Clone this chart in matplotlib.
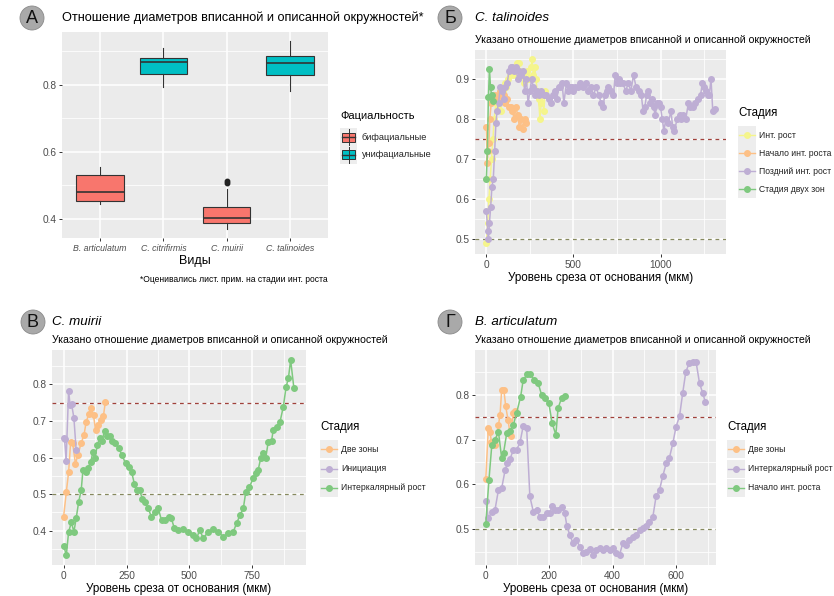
import matplotlib
matplotlib.use("Agg")
import matplotlib.pyplot as plt
from matplotlib.patches import Rectangle, Ellipse
from matplotlib.lines import Line2D

plt.rcParams['font.family'] = ['Liberation Sans', 'DejaVu Sans']

W, H = 834, 596

# ---- panel A: boxplot stats
species = ["B. articulatum", "C. citrifirmis", "C. muirii", "C. talinoides"]
facial = ["bi", "uni", "bi", "uni"]
whis_lo = [0.443, 0.794, 0.370, 0.781]
q1 = [0.454, 0.832, 0.388, 0.829]
med = [0.481, 0.868, 0.403, 0.864]
q3 = [0.529, 0.880, 0.434, 0.887]
whis_hi = [0.553, 0.910, 0.488, 0.931]
outliers = [[], [], [0.505, 0.513], []]

# ---- panel Б: C. talinoides
tal_int_x = [0,8,15,22,30,38,45,55,65,75,85,95,105,115,125,135,145,155,165,175,
             185,195,205,215,225,235,245,255,262,270,278,285,292,300,308,315,322,330,338]
tal_int_y = [0.49,0.54,0.60,0.65,0.70,0.75,0.80,0.84,0.83,0.85,0.82,0.87,0.89,0.88,0.90,0.91,0.92,0.91,0.93,0.94,
             0.94,0.92,0.91,0.89,0.90,0.92,0.90,0.93,0.95,0.91,0.93,0.90,0.87,0.85,0.80,0.84,0.86,0.82,0.87]
tal_start_x = [0,5,10,15,20,28,38,50,60,70,80,90,100,110,120,130,140,150,160,170,180,190,200,210,220,230]
tal_start_y = [0.78,0.69,0.72,0.74,0.80,0.84,0.85,0.86,0.85,0.86,0.87,0.85,0.86,0.84,0.85,0.83,0.83,0.82,0.80,0.83,
               0.81,0.78,0.80,0.775,0.80,0.79]
tal_late_x = [0,8,12,18,25,32,40,48,55,62, 70,80,90,100,110,120,130,140,150,160,
              170,180,190,200,210,220,230,240,250,260, 270,280,290,300,315,330,345,360,370,385,
              395,405,415,425,435,445,460,470,480,490, 500,510,525,540,555,570,585,600,615,630,
              645,660,670,680,690,700,715,730,740,750, 760,770,785,800,815,830,845,860,875,890,
              900,910,920,930,940,950,960,970,980,990, 1000,1010,1020,1030,1045,1060,1070,1080,1095,1110,
              1120,1130,1145,1160,1170,1185,1200,1215,1230,1240, 1250,1260,1270,1280,1290,1300,1310]
tal_late_y = [0.57,0.52,0.50,0.54,0.58,0.63,0.65,0.72,0.79,0.82, 0.84,0.88,0.87,0.85,0.88,0.89,0.92,0.93,0.93,0.92,
              0.93,0.90,0.92,0.91,0.92,0.87,0.90,0.84,0.87,0.90, 0.88,0.86,0.87,0.86,0.87,0.86,0.86,0.85,0.84,0.86,
              0.87,0.85,0.88,0.88,0.89,0.84,0.89,0.87,0.88,0.88, 0.87,0.88,0.88,0.89,0.88,0.89,0.87,0.88,0.86,0.88,
              0.86,0.84,0.83,0.86,0.87,0.88,0.87,0.86,0.91,0.89, 0.90,0.89,0.89,0.87,0.89,0.87,0.91,0.88,0.87,0.86,
              0.82,0.83,0.86,0.87,0.84,0.85,0.83,0.81,0.84,0.84, 0.83,0.80,0.77,0.80,0.79,0.82,0.78,0.77,0.80,0.81,
              0.80,0.81,0.80,0.84,0.83,0.83,0.84,0.85,0.86,0.89, 0.88,0.87,0.86,0.86,0.90,0.82,0.825]
tal_two_x = [0,6,12,18,24,30,38]
tal_two_y = [0.65,0.72,0.855,0.925,0.88,0.86,0.845]

# ---- panel В: C. muirii
mui_two_x = [0,11,20,28,36,47,57,70,81,90,100,110,119,127,136,147,158,166]
mui_two_y = [0.438,0.507,0.56,0.642,0.64,0.583,0.607,0.64,0.661,0.698,0.718,0.734,0.715,0.675,0.69,0.703,0.712,0.752]
mui_init_x = [0,4,10,20,26,32,41,50]
mui_init_y = [0.652,0.65,0.59,0.782,0.742,0.745,0.708,0.62]
mui_int_x = [0,11,20,31,41,50,60,70,77,88,97,108,117,125,134,143,152,163,173,183,
             194,206,219,232,246,259,270,281,290,302,313,323,336,349,363,376,389,402,418,428,
             440,455,475,495,515,528,541,555,574,594,614,634,654,674,687,701,714,724,738,754,
             764,773,783,793,803,813,826,833,847,860,873,884,893,902,915]
mui_int_y = [0.359,0.334,0.397,0.423,0.397,0.434,0.479,0.511,0.566,0.56,0.57,0.589,0.616,0.60,0.634,0.652,0.645,0.672,0.66,0.66,
             0.645,0.64,0.625,0.607,0.584,0.575,0.561,0.529,0.51,0.51,0.488,0.479,0.461,0.438,0.452,0.461,0.429,0.429,0.438,0.434,
             0.407,0.402,0.405,0.397,0.388,0.379,0.402,0.379,0.397,0.405,0.397,0.384,0.393,0.397,0.42,0.443,0.461,0.507,0.52,0.543,
             0.557,0.566,0.598,0.611,0.598,0.643,0.645,0.675,0.684,0.698,0.739,0.793,0.816,0.866,0.789]

# ---- panel Г: B. articulatum
art_two_x = [0,8,13,18,24,30,40,45,50,57,63,70,78,87,92]
art_two_y = [0.612,0.726,0.718,0.695,0.69,0.688,0.733,0.755,0.81,0.81,0.774,0.744,0.707,0.76,0.763]
art_int_x = [0,8,19,29,40,50,61,68,76,87,97,108,118,129,139,150,160,171,181,192,
             202,209,218,228,239,249,256,265,275,286,296,307,317,328,338,349,359,370,380,391,
             401,411,422,432,443,453,464,474,485,495,506,516,527,537,548,558,569,579,590,600,
             611,621,631,642,652,663,674,684,692]
art_int_y = [0.563,0.524,0.539,0.543,0.588,0.591,0.632,0.647,0.656,0.677,0.677,0.694,0.73,0.725,0.573,0.539,0.543,0.528,0.528,0.536,
             0.536,0.552,0.543,0.543,0.55,0.536,0.506,0.487,0.469,0.476,0.461,0.446,0.449,0.455,0.443,0.454,0.457,0.454,0.457,0.454,
             0.457,0.446,0.443,0.469,0.465,0.476,0.482,0.487,0.498,0.502,0.506,0.515,0.528,0.573,0.588,0.618,0.647,0.659,0.692,0.729,
             0.752,0.804,0.852,0.871,0.874,0.874,0.826,0.804,0.785]
art_start_x = [0,10,19,29,40,50,56,66,76,87,97,110,118,131,141,152,165,176,186,199,209,221,228,239,249]
art_start_y = [0.512,0.61,0.688,0.70,0.717,0.659,0.67,0.714,0.72,0.733,0.759,0.796,0.833,0.846,0.846,0.833,0.826,0.80,0.793,0.781,
               0.737,0.711,0.77,0.793,0.798]

RED, CYAN = "#F8766D", "#00BFC4"
GREEN, PURPLE, ORANGE, YELLOW = "#7FC97F", "#BEAED4", "#FDC086", "#F5F58C"
SUBTITLE = "Указано отношение диаметров вписанной и описанной окружностей"
XLAB = "Уровень среза от основания (мкм)"

fig = plt.figure(figsize=(W / 100, H / 100), dpi=100)


def rect(l, t, r, b):
    return [l / W, 1 - b / H, (r - l) / W, (b - t) / H]


def fx(x):
    return x / W


def fy(y):
    return 1 - y / H


def ggstyle(ax, xmaj, xmin, ymaj, ymin):
    ax.set_facecolor("#EBEBEB")
    for s in ax.spines.values():
        s.set_visible(False)
    ax.set_xticks(xmaj)
    ax.set_xticks(xmin, minor=True)
    ax.set_yticks(ymaj)
    ax.set_yticks(ymin, minor=True)
    ax.grid(which="major", color="white", lw=1.1)
    ax.grid(which="minor", color="white", lw=0.55)
    ax.set_axisbelow(True)
    ax.tick_params(which="major", length=2.5, width=0.7, color="#333333",
                   labelsize=7.3, labelcolor="#4D4D4D", pad=1.5)
    ax.tick_params(which="minor", length=0)


def badge(x, y, letter):
    fig.add_artist(Ellipse((fx(x), fy(y)), 24 / W, 24 / H, transform=fig.transFigure,
                           fc="#A9A9A9", ec="#8A8A8A", lw=0.6))
    fig.text(fx(x), fy(y + 0.5), letter, ha="center", va="center", fontsize=13, color="#111111")


def line_legend(x, y0, title, labels, colors, step=19.5):
    fig.text(fx(x), fy(y0), title, ha="left", va="center", fontsize=8.3)
    for i, (lab, c) in enumerate(zip(labels, colors)):
        yy = y0 + 22 + i * step
        fig.add_artist(Rectangle((fx(x), fy(yy + 9)), 18 / W, 18 / H, transform=fig.transFigure,
                                 fc="#EDEDED", ec="none"))
        fig.add_artist(Line2D([fx(x + 1), fx(x + 17)], [fy(yy), fy(yy)], transform=fig.transFigure,
                              color=c, lw=1.0))
        fig.add_artist(Line2D([fx(x + 9)], [fy(yy)], transform=fig.transFigure, color=c,
                              marker="o", ms=4, lw=0))
        fig.text(fx(x + 21), fy(yy), lab, ha="left", va="center", fontsize=6.2, color="#222222")


def line_panel(ax, series, xlim, ylim, xmaj, xmin, ymaj, ymin):
    ggstyle(ax, xmaj, xmin, ymaj, ymin)
    ax.axhline(0.75, color="#A0403A", lw=0.9, ls=(0, (3, 3)), zorder=1.5)
    ax.axhline(0.5, color="#86895E", lw=0.9, ls=(0, (3, 3)), zorder=1.5)
    for xs, ys, c in series:
        ax.plot(xs, ys, color=c, lw=1.1, marker="o", ms=4, zorder=2)
    ax.set_xlim(*xlim)
    ax.set_ylim(*ylim)
    ax.set_xlabel(XLAB, fontsize=8.4, labelpad=1.5)


# ================= A
axA = fig.add_axes(rect(62, 32, 328, 238))
stats = []
for i in range(len(species)):
    stats.append(dict(med=med[i], q1=q1[i], q3=q3[i], whislo=whis_lo[i], whishi=whis_hi[i],
                      fliers=outliers[i]))
bp = axA.bxp(stats, positions=[1, 2, 3, 4], widths=0.75, patch_artist=True, showfliers=True,
             manage_ticks=False,
             boxprops=dict(ec="#333333", lw=0.8),
             medianprops=dict(color="#333333", lw=1.2),
             whiskerprops=dict(color="#333333", lw=0.8),
             capprops=dict(lw=0),
             flierprops=dict(marker="o", ms=3.2, mfc="#222222", mec="#222222"))
for patch, f in zip(bp["boxes"], facial):
    patch.set_facecolor(RED if f == "bi" else CYAN)
ggstyle(axA, [1, 2, 3, 4], [], [0.4, 0.6, 0.8], [0.3, 0.5, 0.7, 0.9])
axA.set_xlim(0.4, 4.6)
axA.set_ylim(0.342, 0.958)
axA.set_xticklabels(species, fontsize=6.3, style="italic")
axA.set_xlabel("Виды", fontsize=9, labelpad=2)
badge(32, 18, "A")
fig.text(fx(62), fy(18), "Отношение диаметров вписанной и описанной окружностей*",
         ha="left", va="center", fontsize=9.2)
fig.text(fx(328), fy(279), "*Оценивались лист. прим. на стадии инт. роста",
         ha="right", va="center", fontsize=6.15)
# legend A
fig.text(fx(340), fy(116), "Фациальность", ha="left", va="center", fontsize=8.0)
for i, (lab, c) in enumerate(zip(["бифациальные", "унифациальные"], [RED, CYAN])):
    yy = 137 + i * 18
    fig.add_artist(Rectangle((fx(340), fy(yy + 9)), 17 / W, 18 / H, transform=fig.transFigure,
                             fc="#EDEDED", ec="none"))
    fig.add_artist(Line2D([fx(348.5), fx(348.5)], [fy(yy - 8), fy(yy + 8)], transform=fig.transFigure,
                          color="#333333", lw=0.7))
    fig.add_artist(Rectangle((fx(342), fy(yy + 4.5)), 13 / W, 9 / H, transform=fig.transFigure,
                             fc=c, ec="#333333", lw=0.7))
    fig.add_artist(Line2D([fx(342), fx(355)], [fy(yy), fy(yy)], transform=fig.transFigure,
                          color="#333333", lw=1.0))
    fig.text(fx(362), fy(yy), lab, ha="left", va="center", fontsize=6.6, color="#222222")

# ================= Б
axB = fig.add_axes(rect(475, 50, 726, 254))
line_panel(axB, [(tal_int_x, tal_int_y, YELLOW), (tal_start_x, tal_start_y, ORANGE),
                 (tal_late_x, tal_late_y, PURPLE), (tal_two_x, tal_two_y, GREEN)],
           (-65, 1376), (0.462, 0.973), [0, 500, 1000], [250, 750, 1250],
           [0.5, 0.6, 0.7, 0.8, 0.9], [0.55, 0.65, 0.75, 0.85, 0.95])
badge(450, 18, "Б")
fig.text(fx(475), fy(18), "C. talinoides", ha="left", va="center", fontsize=9.6, style="italic")
fig.text(fx(475), fy(40), SUBTITLE, ha="left", va="center", fontsize=7.55)
line_legend(738, 113, "Стадия", ["Инт. рост", "Начало инт. роста", "Поздний инт. рост", "Стадия двух зон"],
            [YELLOW, ORANGE, PURPLE, GREEN], step=18)

# ================= В
axC = fig.add_axes(rect(52, 350, 306, 565))
line_panel(axC, [(mui_two_x, mui_two_y, ORANGE), (mui_init_x, mui_init_y, PURPLE),
                 (mui_int_x, mui_int_y, GREEN)],
           (-46, 963), (0.3065, 0.8935), [0, 250, 500, 750], [125, 375, 625, 875],
           [0.4, 0.5, 0.6, 0.7, 0.8], [0.35, 0.45, 0.55, 0.65, 0.75, 0.85])
badge(33, 322, "В")
fig.text(fx(52), fy(322), "C. muirii", ha="left", va="center", fontsize=9.6, style="italic")
fig.text(fx(52), fy(340), SUBTITLE, ha="left", va="center", fontsize=7.55)
line_legend(320, 427, "Стадия", ["Две зоны", "Инициация", "Интеркалярный рост"],
            [ORANGE, PURPLE, GREEN])

# ================= Г
axD = fig.add_axes(rect(475, 350, 716, 565))
line_panel(axD, [(art_two_x, art_two_y, ORANGE), (art_int_x, art_int_y, PURPLE),
                 (art_start_x, art_start_y, GREEN)],
           (-34, 726), (0.42, 0.90), [0, 200, 400, 600], [100, 300, 500, 700],
           [0.5, 0.6, 0.7, 0.8], [0.45, 0.55, 0.65, 0.75, 0.85])
badge(450, 322, "Г")
fig.text(fx(475), fy(322), "B. articulatum", ha="left", va="center", fontsize=9.6, style="italic")
fig.text(fx(475), fy(340), SUBTITLE, ha="left", va="center", fontsize=7.55)
line_legend(727, 427, "Стадия", ["Две зоны", "Интеркалярный рост", "Начало инт. роста"],
            [ORANGE, PURPLE, GREEN])

fig.savefig("out.png", dpi=100, facecolor="white")
